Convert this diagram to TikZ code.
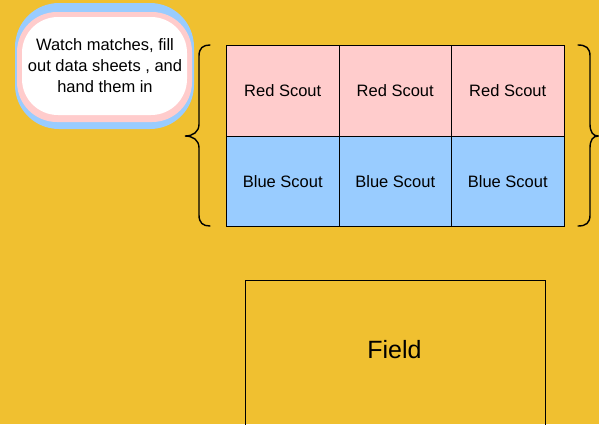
\documentclass[tikz,border=0pt]{standalone}
\usepackage{fontspec}
\setmainfont{Liberation Sans}
\definecolor{bg}{HTML}{F0C030}
\definecolor{pinkc}{HTML}{FFCCCC}
\definecolor{bluec}{HTML}{99CCFF}
\tikzset{
  cell/.style={draw=black, line width=1pt, minimum width=112.5pt, minimum height=90.5pt, inner sep=0pt, font=\fontsize{16.5}{19}\selectfont},
  bracec/.style={draw=black, line width=1.4pt, line cap=round},
}
\begin{document}
\begin{tikzpicture}[x=1pt,y=-1pt]
\fill[bg] (0,0) rectangle (599,424);
\useasboundingbox (0,0) rectangle (599,424);
% bubble
\fill[bluec, rounded corners=44pt] (15,3) rectangle (194,129);
\fill[pinkc, rounded corners=40pt] (17,12) rectangle (192,122);
\fill[white, rounded corners=36pt] (22,17) rectangle (187,115);
\node[align=center, font=\fontsize{16.5}{21}\selectfont, inner sep=0pt] (bubble) at (105,66) {Watch matches, fill\\out data sheets , and\\hand them in};
% grid
\node[cell, fill=pinkc, anchor=north west] (r1) at (226,45) {Red Scout};
\node[cell, fill=pinkc, anchor=north west] (r2) at (338.5,45) {Red Scout};
\node[cell, fill=pinkc, anchor=north west] (r3) at (451,45) {Red Scout};
\node[cell, fill=bluec, anchor=north west] (b1) at (226,135.5) {Blue Scout};
\node[cell, fill=bluec, anchor=north west] (b2) at (338.5,135.5) {Blue Scout};
\node[cell, fill=bluec, anchor=north west] (b3) at (451,135.5) {Blue Scout};
% braces
\coordinate (lt) at (210,45);
\coordinate (lb) at (210,226);
\coordinate (ltip) at (185,136);
\coordinate (rt) at (578,45);
\coordinate (rb) at (578,226);
\coordinate (rtip) at (598,136);
\draw[bracec] (lt) .. controls (203,45) and (199,48) .. (199,56) -- (199,124)
  .. controls (199,132) and (193,136) .. (ltip)
  .. controls (193,136) and (199,140) .. (199,148) -- (199,215)
  .. controls (199,223) and (203,226) .. (lb);
\draw[bracec] (rt) .. controls (586,45) and (590,48) .. (590,56) -- (590,124)
  .. controls (590,132) and (593,136) .. (rtip)
  .. controls (593,136) and (590,140) .. (590,148) -- (590,215)
  .. controls (590,223) and (586,226) .. (rb);
% field
\node[draw=black, line width=1.3pt, minimum width=300pt, minimum height=146pt, anchor=north west, inner sep=0pt] (field) at (244.5,280) {};
\node[font=\fontsize{25}{28}\selectfont] (fieldlabel) at (394.5,350) {Field};
\end{tikzpicture}
\end{document}
